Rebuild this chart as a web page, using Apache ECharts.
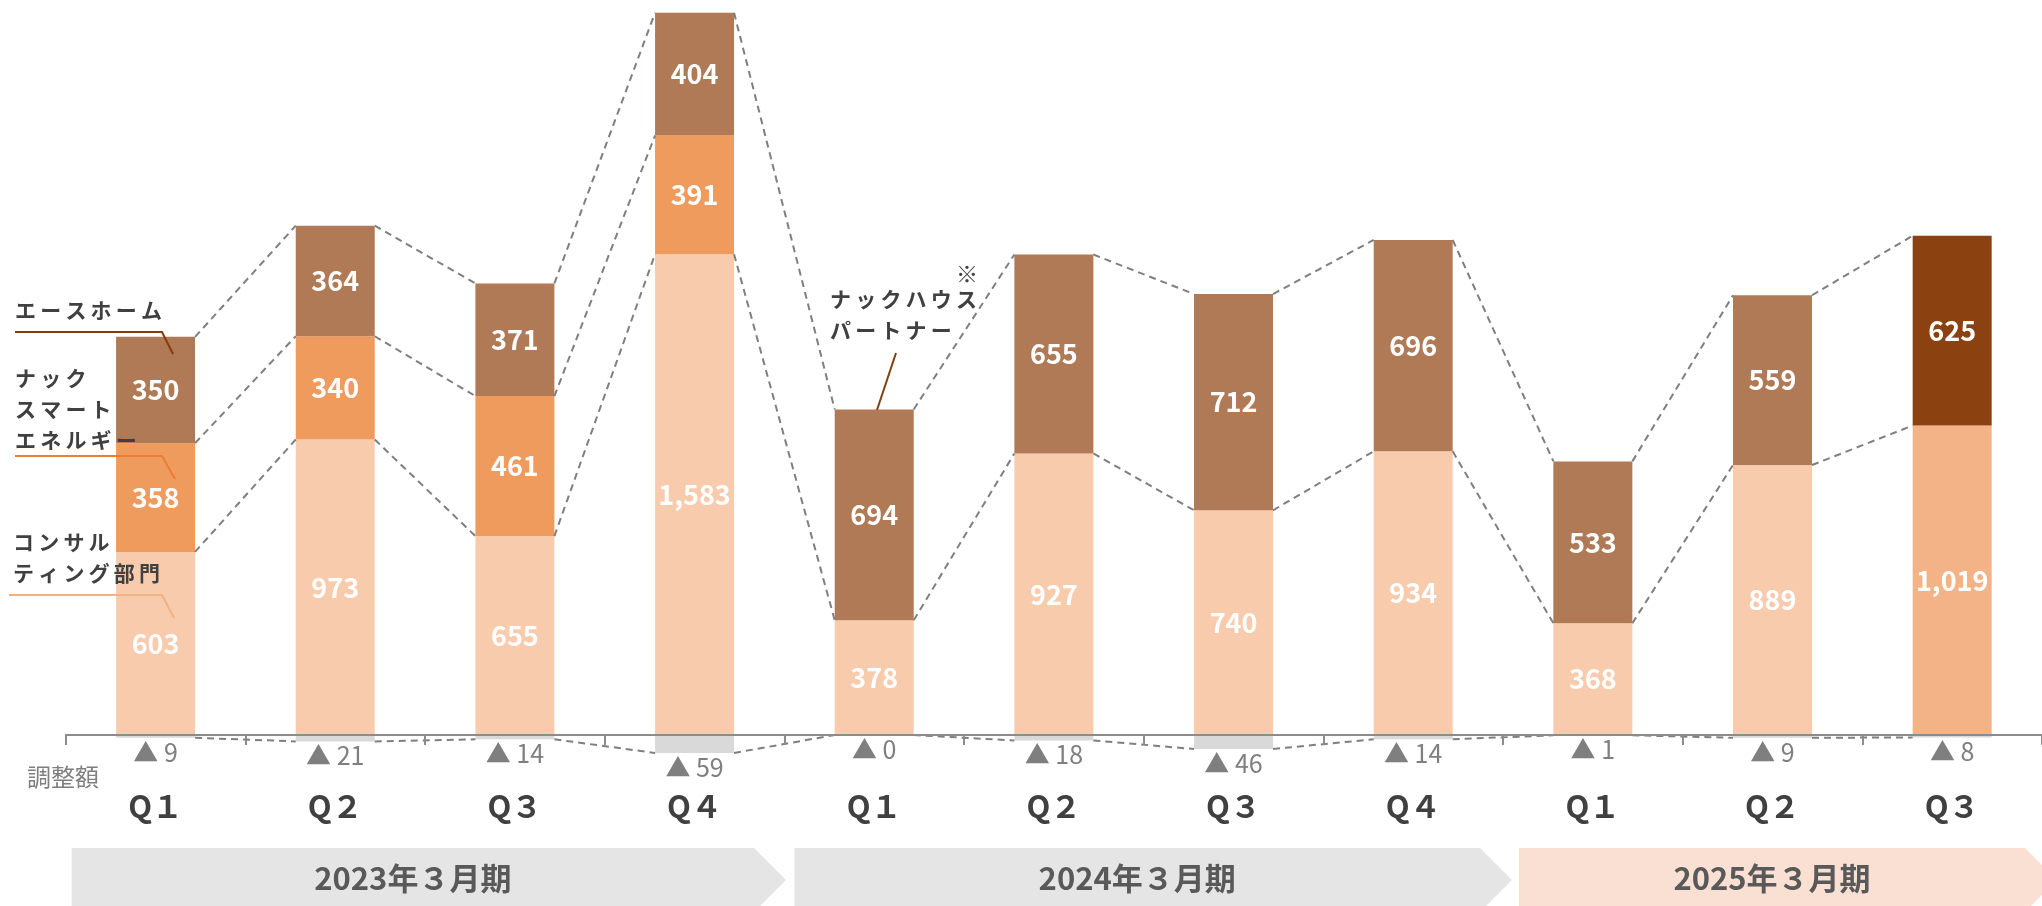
<!DOCTYPE html>
<html>
<head>
<meta charset="utf-8">
<script src="https://cdn.jsdelivr.net/npm/echarts@6/dist/echarts.min.js"></script>
<style>
html,body{margin:0;padding:0;background:#fff;}
#chart{width:2042px;height:906px;}
</style>
</head>
<body>
<div id="chart"></div>
<script>
const categories = ['Q１','Q２','Q３','Q４','Q１','Q２','Q３','Q４','Q１','Q２','Q３'];
const consulting = [603, 973, 655, 1583, 378, 927, 740, 934, 368, 889, 1019];
const smartEnergy = [358, 340, 461, 391, null, null, null, null, null, null, null];
const homePartner = [350, 364, 371, 404, 694, 655, 712, 696, 533, 559, 625];
const adjustment = [-9, -21, -14, -59, 0, -18, -46, -14, -1, -9, -8];
const periods = ['2023年３月期', '2024年３月期', '2025年３月期'];

const FONT = '"Noto Sans CJK JP", "Noto Sans", sans-serif';
const BAR_W = 79;
const C_CONS = '#F8CBAD', C_ENER = '#EF9B5E', C_HOME = '#AF7A55';
const C_CONS_LAST = '#F4B386', C_HOME_LAST = '#8B4210';

const n = categories.length;
// connector segments [index, fromValue, toValue]
const connectors = [];
for (let i = 0; i < n - 1; i++) {
  const c0 = consulting[i], c1 = consulting[i + 1];
  const e0 = c0 + (smartEnergy[i] || 0), e1 = c1 + (smartEnergy[i + 1] || 0);
  const t0 = e0 + homePartner[i], t1 = e1 + homePartner[i + 1];
  connectors.push([i, c0, c1]);
  if (smartEnergy[i] != null && smartEnergy[i + 1] != null) connectors.push([i, e0, e1]);
  connectors.push([i, t0, t1]);
  connectors.push([i, adjustment[i], adjustment[i + 1]]);
}

const fmt = v => Number(v).toLocaleString('en-US');
const barLabel = {
  show: true, position: 'inside', color: '#fff', fontSize: 27, fontWeight: 'bold',
  fontFamily: FONT, formatter: p => fmt(p.value)
};

const consData = consulting.map((v, i) => i === n - 1 ? {value: v, itemStyle: {color: C_CONS_LAST}} : v);
const homeData = homePartner.map((v, i) => i === n - 1 ? {value: v, itemStyle: {color: C_HOME_LAST}} : v);

const chart = echarts.init(document.getElementById('chart'), null, {renderer: 'canvas'});

function txt(text, x, y, size, color, weight, align) {
  return {type: 'text', z: 100, style: {text: text, x: x, y: y, fill: color, fontSize: size,
    fontWeight: weight || 'bold', fontFamily: FONT, textAlign: align || 'left', textVerticalAlign: 'middle'}};
}
function pline(points, color) {
  return {type: 'polyline', z: 100, shape: {points: points}, style: {stroke: color, lineWidth: 2, fill: null}};
}
const sp = '\u2009';
const spaced = s => s.split('').join(sp);

const banners = [
  {l: 71.6, r: 754, tip: 786, fill: '#E5E5E5'},
  {l: 794.4, r: 1480, tip: 1512, fill: '#E5E5E5'},
  {l: 1519, r: 2025, tip: 2057, fill: '#FADFD3'}
];
const bTop = 848, bBot = 912, bMid = (bTop + bBot) / 2;
const graphics = [];
banners.forEach((b, k) => {
  graphics.push({type: 'polygon', z: 1, shape: {points: [[b.l, bTop], [b.r, bTop], [b.tip, bMid], [b.r, bBot], [b.l, bBot]]},
    style: {fill: b.fill}});
  graphics.push(txt(periods[k], (b.l + b.r) / 2, 878, 31, '#595959', 'bold', 'center'));
});
graphics.push(
  txt(spaced('エースホーム'), 15, 310, 21, '#404040'),
  pline([[15, 332], [162, 332], [173, 354]], '#843C0C'),
  txt(spaced('ナック'), 15, 378, 21, '#404040'),
  txt(spaced('スマート'), 15, 409, 21, '#404040'),
  txt(spaced('エネルギー'), 15, 440, 21, '#404040'),
  pline([[15, 456], [162, 456], [175, 479]], '#ED7D31'),
  txt(spaced('コンサル'), 13, 542, 21, '#404040'),
  txt(spaced('ティング部門'), 13, 573, 21, '#404040'),
  pline([[9, 595], [162, 595], [174, 618]], '#F4B183'),
  txt(spaced('ナックハウス'), 830, 299, 21, '#404040'),
  txt(spaced('パートナー'), 830, 330, 21, '#404040'),
  txt('※', 967, 274, 22, '#404040', 'normal', 'center'),
  pline([[896, 353], [877, 410]], '#843C0C'),
  txt('調整額', 27, 777, 24, '#7F7F7F', 'normal')
);

const option = {
  animation: false,
  backgroundColor: '#fff',
  grid: {left: 65.75, width: 1985.5, top: 6.1, bottom: 140.6, containLabel: false},
  xAxis: {
    type: 'category', data: categories, z: 10,
    axisLine: {show: true, lineStyle: {color: '#8C8C8C', width: 2}},
    axisTick: {show: true, length: 10, lineStyle: {color: '#8C8C8C', width: 2}},
    axisLabel: {margin: 24, fontSize: 31, fontWeight: 'bold', color: '#404040', fontFamily: FONT, lineHeight: 34}
  },
  yAxis: {type: 'value', min: -100, max: 2400, show: false, splitLine: {show: false}},
  graphic: graphics,
  series: [
    {type: 'bar', name: 'コンサルティング部門', stack: 'pos', barWidth: BAR_W, data: consData,
      itemStyle: {color: C_CONS}, label: barLabel},
    {type: 'bar', name: 'ナックスマートエネルギー', stack: 'pos', barWidth: BAR_W, data: smartEnergy,
      itemStyle: {color: C_ENER}, label: barLabel},
    {type: 'bar', name: 'エースホーム/ナックハウスパートナー', stack: 'pos', barWidth: BAR_W, data: homeData,
      itemStyle: {color: C_HOME}, label: barLabel},
    {type: 'bar', name: '調整額', stack: 'neg', barWidth: BAR_W, barGap: '-100%', data: adjustment,
      itemStyle: {color: '#D9D9D9'},
      label: {show: true, position: 'bottom', distance: 2, color: '#7F7F7F', fontSize: 25,
        fontFamily: FONT, formatter: p => '▲ ' + Math.abs(p.value)}},
    {type: 'custom', name: 'connectors', z: 3, data: connectors, encode: {x: 0, y: 1},
      renderItem: (params, api) => {
        const i = api.value(0), a = api.value(1), b = api.value(2);
        const p1 = api.coord([i, a]), p2 = api.coord([i + 1, b]);
        const hw = BAR_W / 2;
        return {type: 'line', shape: {x1: p1[0] + hw, y1: p1[1], x2: p2[0] - hw, y2: p2[1]},
          style: {stroke: '#7F7F7F', lineWidth: 2, lineDash: [7, 5]}};
      }}
  ]
};
chart.setOption(option);
</script>
</body>
</html>
